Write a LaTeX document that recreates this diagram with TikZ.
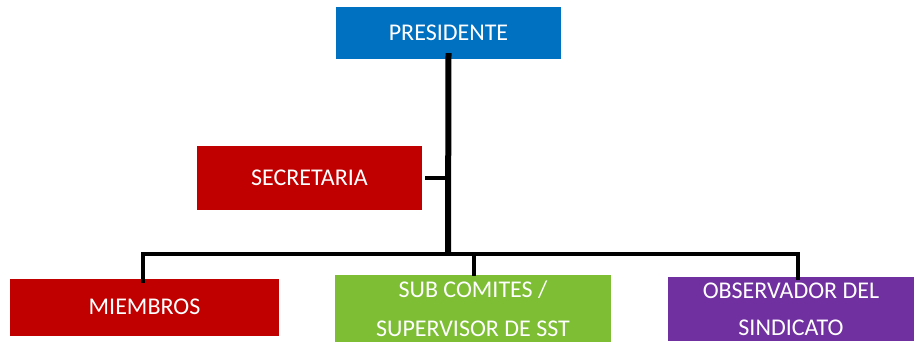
\documentclass[tikz,border=0pt]{standalone}
\usepackage{fontspec}
\setmainfont{Carlito}
\definecolor{cblue}{HTML}{0070C0}
\definecolor{cred}{HTML}{C00000}
\definecolor{cgreen}{HTML}{7DBE35}
\definecolor{cpurple}{HTML}{7030A0}
\begin{document}
\begin{tikzpicture}[x=1pt,y=-1pt,
  box/.style={rectangle, draw=none, text=white, font=\fontsize{24}{39}\selectfont, align=center, inner sep=0pt},
  trunk/.style={line width=6pt, black},
  branch/.style={line width=4pt, black, line join=miter}]
\useasboundingbox (0,0) rectangle (917,342);
\node[box, fill=cblue, minimum width=225pt, minimum height=52pt] (pres) at (448.5,33) {PRESIDENTE};
\node[box, fill=cred, minimum width=225pt, minimum height=64pt] (sec) at (309.5,178) {SECRETARIA};
\node[box, fill=cred, minimum width=269pt, minimum height=57pt] (mem) at (144.5,307) {MIEMBROS};
\node[box, fill=cgreen, minimum width=276pt, minimum height=67pt] (sub) at (473,308.5) {SUB COMITES /\\SUPERVISOR DE SST};
\node[box, fill=cpurple, minimum width=246pt, minimum height=64pt, font=\fontsize{24}{37}\selectfont] (obs) at (791,309) {OBSERVADOR DEL\\SINDICATO};
\coordinate (j) at (448,254);
\draw[trunk] ([yshift=6pt]pres.south) -- ([yshift=2pt]j);
\draw[branch] ([xshift=3pt]sec.east) -- (sec.east -| j);
\draw[branch] ([yshift=-5pt,xshift=-1.5pt]mem.north) |- (j) -| ([yshift=-3pt,xshift=7pt]obs.north);
\draw[branch] (j) -| ([yshift=-1pt,xshift=1pt]sub.north);
\end{tikzpicture}
\end{document}
